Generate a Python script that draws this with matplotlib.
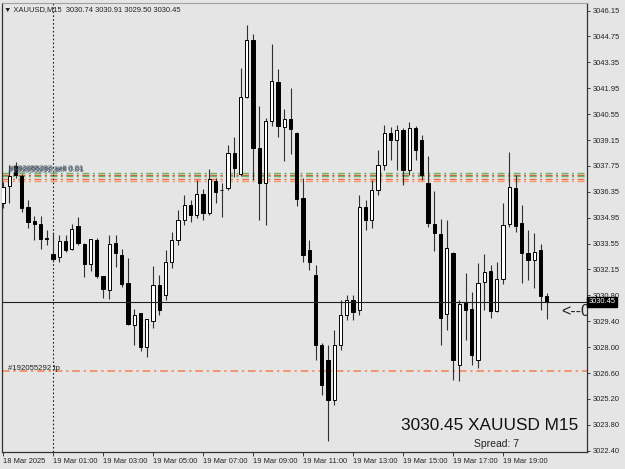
import matplotlib
matplotlib.use("Agg")
import matplotlib.pyplot as plt
import numpy as np

# XAUUSD M15, 88 bars (O, H, L, C)
opens = [3035.76, 3036.68, 3037.76, 3037.22, 3035.54, 3034.79, 3034.62, 3033.87,
         3033.00, 3032.84, 3033.71, 3033.27, 3034.52, 3033.54, 3032.47, 3033.76,
         3031.82, 3031.06, 3033.60, 3032.95, 3031.44, 3029.17, 3029.82, 3027.98,
         3029.39, 3031.33, 3030.79, 3032.57, 3033.76, 3034.84, 3035.66, 3035.12,
         3036.25, 3035.22, 3036.95, 3036.47, 3036.57, 3038.47, 3037.32, 3041.48,
         3044.56, 3038.73, 3036.84, 3040.19, 3042.29, 3039.86, 3040.30, 3039.54,
         3036.03, 3033.22, 3031.87, 3028.09, 3027.28, 3025.12, 3028.09, 3029.71,
         3030.52, 3029.98, 3035.54, 3034.84, 3036.47, 3037.81, 3039.54, 3039.16,
         3039.70, 3037.54, 3039.81, 3039.16, 3036.84, 3034.62, 3034.09, 3029.77,
         3033.06, 3027.01, 3030.42, 3030.03, 3027.28, 3031.50, 3032.09, 3029.93,
         3031.66, 3034.62, 3036.57, 3034.68, 3033.06, 3032.69, 3033.22, 3030.74]
highs = [3036.89, 3037.81, 3037.97, 3037.32, 3035.92, 3035.06, 3035.06, 3034.30,
         3034.19, 3034.03, 3034.03, 3034.62, 3035.00, 3033.60, 3033.85, 3033.87,
         3031.85, 3034.03, 3034.03, 3033.27, 3032.79, 3030.03, 3029.85, 3029.52,
         3032.36, 3031.87, 3033.22, 3034.19, 3035.39, 3036.20, 3035.93, 3037.01,
         3036.52, 3037.60, 3037.11, 3036.84, 3038.89, 3039.32, 3043.05, 3045.37,
         3044.88, 3041.00, 3040.35, 3044.35, 3042.99, 3040.84, 3041.97, 3039.60,
         3037.11, 3033.76, 3032.41, 3028.20, 3028.09, 3028.90, 3030.52, 3030.79,
         3030.79, 3036.20, 3035.93, 3037.00, 3038.62, 3039.97, 3039.87, 3039.97,
         3039.81, 3040.14, 3039.92, 3039.43, 3038.30, 3036.41, 3034.90, 3034.84,
         3033.10, 3030.52, 3031.99, 3030.96, 3032.52, 3033.01, 3032.41, 3032.57,
         3035.76, 3038.52, 3037.27, 3035.66, 3034.30, 3034.14, 3033.55, 3030.91]
lows = [3035.49, 3035.76, 3037.11, 3035.27, 3034.41, 3033.76, 3033.27, 3033.49,
        3032.57, 3032.57, 3033.11, 3033.22, 3033.49, 3031.76, 3032.09, 3031.71,
        3030.63, 3030.57, 3032.30, 3031.22, 3029.20, 3028.09, 3027.77, 3027.44,
        3029.01, 3029.71, 3030.52, 3032.25, 3033.49, 3034.58, 3034.74, 3034.96,
        3034.84, 3035.12, 3035.76, 3035.01, 3036.47, 3037.17, 3037.22, 3041.43,
        3037.00, 3034.84, 3034.57, 3039.92, 3039.32, 3038.03, 3038.41, 3035.60,
        3032.57, 3032.14, 3027.28, 3025.39, 3022.91, 3024.85, 3027.82, 3029.44,
        3029.44, 3029.71, 3034.30, 3034.41, 3036.20, 3037.54, 3038.08, 3037.54,
        3036.73, 3037.27, 3038.08, 3037.00, 3034.46, 3033.17, 3028.09, 3028.90,
        3026.20, 3026.16, 3028.37, 3027.01, 3026.85, 3029.98, 3029.55, 3029.90,
        3031.39, 3034.47, 3034.20, 3031.45, 3031.61, 3031.18, 3029.98, 3029.50]
closes = [3036.62, 3037.22, 3037.27, 3035.49, 3034.73, 3034.62, 3033.81, 3033.85,
          3032.74, 3033.71, 3033.22, 3034.35, 3033.60, 3032.47, 3033.81, 3031.82,
          3031.12, 3033.54, 3033.06, 3031.39, 3029.22, 3029.71, 3027.98, 3029.49,
          3031.33, 3029.98, 3032.57, 3033.76, 3034.84, 3035.66, 3035.12, 3036.25,
          3035.22, 3037.06, 3036.36, 3036.45, 3038.47, 3037.65, 3041.48, 3044.56,
          3038.73, 3036.84, 3040.19, 3042.35, 3039.92, 3040.30, 3039.76, 3035.97,
          3032.95, 3032.57, 3028.09, 3025.93, 3025.12, 3028.09, 3029.71, 3030.52,
          3029.87, 3035.54, 3034.84, 3036.47, 3037.81, 3039.54, 3039.16, 3039.70,
          3037.54, 3039.81, 3038.62, 3037.27, 3034.68, 3034.14, 3029.55, 3033.33,
          3027.28, 3030.30, 3029.98, 3027.55, 3031.44, 3032.04, 3029.93, 3031.66,
          3034.57, 3036.63, 3034.52, 3033.06, 3032.69, 3033.11, 3030.74, 3030.45]

price_labels = ["3022.40", "3023.80", "3025.20", "3026.60", "3028.00", "3029.40",
                "3030.80", "3032.15", "3033.55", "3034.95", "3036.35", "3037.75",
                "3039.15", "3040.55", "3041.95", "3043.35", "3044.75", "3046.15"]
time_labels = ["18 Mar 2025", "19 Mar 01:00", "19 Mar 03:00", "19 Mar 05:00",
               "19 Mar 07:00", "19 Mar 09:00", "19 Mar 11:00", "19 Mar 13:00",
               "19 Mar 15:00", "19 Mar 17:00", "19 Mar 19:00"]

# order lines (open / tp levels)
order_levels = [3037.40, 3037.30, 3037.20, 3037.08, 3036.97]
order_colors = ["#6cb46c", "#e0552e", "#6cb46c", "#ec7040", "#f5996f"]
tp_level = 3026.70
bid = 3030.45

BG = "#e5e5e5"
SMALL = "Liberation Sans"

fig = plt.figure(figsize=(6.25, 4.69), dpi=100, facecolor=BG)
ax = fig.add_axes([2 / 625, 17 / 469, 585 / 625, 449 / 469])
ax.set_facecolor(BG)

x = np.arange(len(opens))
o = np.array(opens)
c = np.array(closes)
up = c >= o

ax.vlines(x, lows, highs, color="#303030", linewidth=0.8, zorder=3)
bottom = np.minimum(o, c)
height = np.maximum(np.abs(c - o), 0.03)
ax.bar(x[up], height[up], 0.55, bottom=bottom[up], facecolor="white",
       edgecolor="black", linewidth=0.7, zorder=4)
ax.bar(x[~up], height[~up], 0.55, bottom=bottom[~up], facecolor="black",
       edgecolor="black", linewidth=0.7, zorder=4)

dash = (0, (5, 2.5, 1.5, 2.5))
for lvl, col in zip(order_levels, order_colors):
    ax.axhline(lvl, color=col, linewidth=1.0, linestyle=dash, zorder=2)
ax.axhline(tp_level, color="#f2804f", linewidth=1.1, linestyle=dash, zorder=2)
ax.axhline(bid, color="#202020", linewidth=0.8, zorder=5)
ax.axvline(8, color="#202020", linewidth=0.8, linestyle=(0, (1.5, 2)), zorder=2)

# order labels stacked on top of each other
for dx, dy, txt, col in [(0.9, 0.22, "#192055293 sell 0.01", "#4a5a6a"),
                         (1.0, 0.14, "#192055292 sell 0.01", "#3a4a5a"),
                         (0.8, 0.06, "#192055291 sl", "#5a6a7a"),
                         (1.1, 0.18, "#192055290 sell 0.01", "#2a3a4a")]:
    ax.text(dx, order_levels[0] + dy, txt, fontsize=5.6, family=SMALL, color=col,
            va="center", ha="left", zorder=6, alpha=0.75)
ax.text(0.8, tp_level + 0.13, "#192055292 tp", fontsize=5.6, family=SMALL,
        color="#222", va="center", ha="left", zorder=6)

ax.set_xlim(-0.16, 93.44)
ax.set_ylim(3022.33, 3046.56)

ax.yaxis.tick_right()
ax.set_yticks(np.linspace(3022.40, 3046.15, len(price_labels)))
ax.set_yticklabels(price_labels, family=SMALL)
ax.set_xticks(np.arange(0, 8 * len(time_labels), 8))
ax.set_xticklabels(time_labels, ha="left", family=SMALL)
ax.tick_params(axis="y", length=2, width=0.6, pad=2, labelsize=5.4, colors="#222")
ax.tick_params(axis="x", length=3, width=0.6, pad=1.5, labelsize=5.4, colors="#222")

for s in ["left", "bottom", "right"]:
    ax.spines[s].set_color("#333")
    ax.spines[s].set_linewidth(0.9)
ax.spines["top"].set_color("#a0a0a0")

# current price box on the price scale
ax.text(1.003, bid, "3030.45", transform=ax.get_yaxis_transform(), fontsize=5.4,
        family=SMALL, color="white", va="center", ha="left",
        bbox=dict(boxstyle="square,pad=0.2", facecolor="black", edgecolor="black"),
        clip_on=False, zorder=7)

ax.text(89.3, 3029.92, "<--0.", fontsize=11.5, family=SMALL, color="#222",
        va="center", ha="left", clip_on=True, zorder=7)
ax.text(0.985, 0.06, "3030.45 XAUUSD M15", transform=ax.transAxes, fontsize=12.4,
        family=SMALL, color="#111", ha="right", va="center")
ax.text(0.845, 0.018, "Spread: 7", transform=ax.transAxes, fontsize=7.5,
        family=SMALL, color="#222", ha="center", va="center")
ax.text(0.004, 0.985, "\u25bc XAUUSD,M15  3030.74 3030.91 3029.50 3030.45",
        transform=ax.transAxes, fontsize=5.4, family=[SMALL, "DejaVu Sans"],
        color="#222", ha="left", va="center")

fig.savefig("out.png", dpi=100, facecolor=BG)
